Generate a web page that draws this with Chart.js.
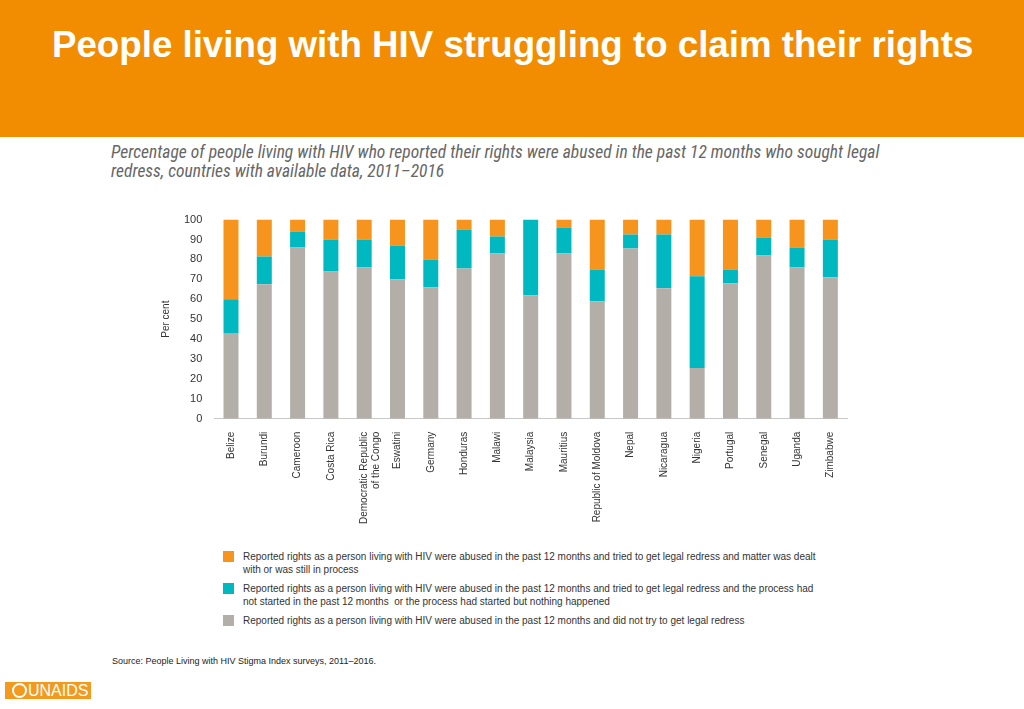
<!DOCTYPE html>
<html>
<head>
<meta charset="utf-8">
<script src="https://cdn.jsdelivr.net/npm/chart.js@4"></script>
<style>
  body { margin: 0; width: 1024px; height: 709px; background: #fff; position: relative; overflow: hidden; font-family: "Liberation Sans", Arial, sans-serif; }
  #header { position: absolute; left: 0; top: 0; width: 1024px; height: 137px; background: #f28c00; }
  #title { position: absolute; left: 52px; top: 27px; color: #fff; font-weight: bold; font-size: 36.7px; line-height: 1; white-space: nowrap; }
  #subtitle { position: absolute; left: 111px; top: 142.5px; width: 785px; color: #666; font-style: italic; font-size: 17.5px; line-height: 19px; font-family: "Liberation Sans Narrow", "Roboto Condensed", sans-serif; }
  #wrap { position: absolute; left: 148px; top: 201px; width: 709px; height: 328px; }
  #legend { position: absolute; left: 223px; top: 550px; width: 605px; font-size: 10px; color: #333; line-height: 13px; }
  .item { position: relative; padding-left: 20px; margin-bottom: 6px; }
  .sw { position: absolute; left: 0; top: 1px; width: 11px; height: 11px; }
  #source { position: absolute; left: 112px; top: 656px; font-size: 9px; color: #222; }
  #logo { position: absolute; left: 5px; top: 682px; width: 86px; height: 17px; background: #f39a1e; color: #fff; font-size: 16px; line-height: 17px; white-space: nowrap; }
  #logo span.g { display: inline-block; width: 15px; height: 15px; border: 2px solid #fff; border-radius: 50%; box-sizing: border-box; margin: 0 1px 0 7px; vertical-align: -2px; }
</style>
</head>
<body>
<div id="header"></div>
<div id="title">People living with HIV struggling to claim their rights</div>
<div id="subtitle">Percentage of people living with HIV who reported their rights were abused in the past 12 months who sought legal redress, countries with available data, 2011–2016</div>
<div id="wrap"><canvas id="myChart"></canvas></div>
<div id="legend"></div>
<div id="source">Source: People Living with HIV Stigma Index surveys, 2011–2016.</div>
<div id="logo"><span class="g"></span>UNAIDS</div>
<script>
const countries = ['Belize', 'Burundi', 'Cameroon', 'Costa Rica', ['Democratic Republic', 'of the Congo'],
    'Eswatini', 'Germany', 'Honduras', 'Malawi', 'Malaysia', 'Mauritius', 'Republic of Moldova',
    'Nepal', 'Nicaragua', 'Nigeria', 'Portugal', 'Senegal', 'Uganda', 'Zimbabwe'];

// did not try to get legal redress
const notTried = [43, 67.5, 86, 74, 76, 70, 66, 75.5, 83, 62, 83, 59, 85.5, 65.5, 25.5, 68, 82, 76, 71];
// tried, process not started / nothing happened
const notStarted = [17, 14, 8, 16, 14, 17, 14, 19.5, 8.5, 38, 13, 16, 7, 27, 46, 7, 9, 10, 19];
// tried, dealt with or still in process
const dealtWith = [40, 18.5, 6, 10, 10, 13, 20, 5, 8.5, 0, 4, 25, 7.5, 7.5, 28.5, 25, 9, 14, 10];

const seriesNames = [
    'Reported rights as a person living with HIV were abused in the past 12 months and tried to get legal redress and matter was dealt with or was still in\u00a0process',
    'Reported rights as a person living with HIV were abused in the past 12 months and tried to get legal redress and the process had not started in the past 12 months \u00a0or the process had started but nothing happened',
    'Reported rights as a person living with HIV were abused in the past 12 months and did not try to get legal redress'
];
const colors = ['#f7941d', '#00b8c0', '#b3aea8'];

const ctx = document.getElementById('myChart').getContext('2d');
const myChart = new Chart(ctx, {
    type: 'bar',
    data: {
        labels: countries,
        datasets: [
            { label: seriesNames[2], data: notTried, backgroundColor: colors[2] },
            { label: seriesNames[1], data: notStarted, backgroundColor: colors[1] },
            { label: seriesNames[0], data: dealtWith, backgroundColor: colors[0] }
        ]
    },
    options: {
        responsive: true,
        maintainAspectRatio: false,
        animation: false,
        layout: { padding: { left: 0, right: 10, top: 2, bottom: 0 } },
        datasets: { bar: { barPercentage: 0.9, categoryPercentage: 0.5 } },
        plugins: { legend: { display: false }, tooltip: { enabled: false } },
        scales: {
            x: {
                stacked: true,
                grid: { display: false },
                border: { display: true, color: '#c8c8c8', width: 1 },
                ticks: {
                    minRotation: 90, maxRotation: 90, padding: 5,
                    color: '#333', font: { family: 'Liberation Sans', size: 10 }
                }
            },
            y: {
                stacked: true,
                min: 0, max: 100,
                grid: { display: false, drawTicks: false },
                border: { display: false },
                ticks: { stepSize: 10, padding: 12, color: '#333', font: { family: 'Liberation Sans', size: 11 } },
                title: { display: true, text: 'Per cent', color: '#333', font: { family: 'Liberation Sans', size: 10 }, padding: { top: 12, bottom: 0 } }
            }
        }
    }
});

const legend = document.getElementById('legend');
seriesNames.forEach((name, i) => {
    const div = document.createElement('div');
    div.className = 'item';
    div.innerHTML = '<span class="sw" style="background:' + colors[i] + '"></span>' + name;
    legend.appendChild(div);
});
</script>
</body>
</html>
